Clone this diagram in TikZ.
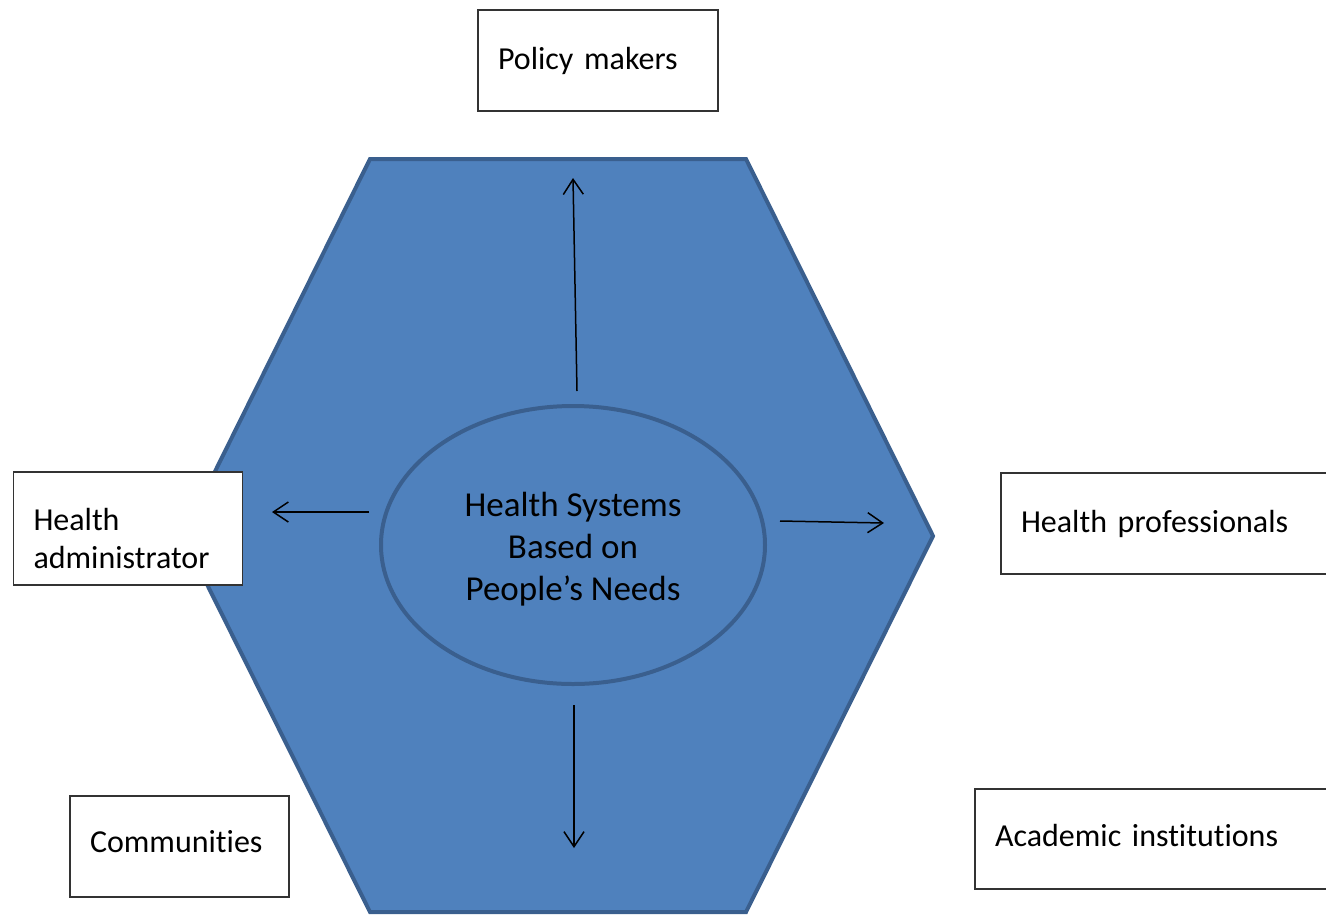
\documentclass[tikz,border=0pt]{standalone}
\usepackage{fontspec}
\setmainfont{Carlito}[Ligatures=NoCommon]
\usetikzlibrary{arrows.meta,shapes.geometric}
\definecolor{hexblue}{HTML}{4F81BD}
\definecolor{hexline}{HTML}{3A5F8E}
\tikzset{
	box/.style={draw=black!80,line width=1.2pt,fill=white,align=left,inner xsep=20pt,inner ysep=0pt,font=\fontsize{32}{38}\selectfont},
	hub/.style={ellipse,draw=hexline,fill=hexblue,line width=4pt,inner sep=0pt,outer sep=0pt,align=center,font=\fontsize{35}{42}\selectfont},
	link/.style={line width=1.5pt,-{Straight Barb[length=15pt,width=20pt]}}
}

\begin{document}
\begin{tikzpicture}[x=1pt,y=-1pt]
	\useasboundingbox (0,0) rectangle (1326,914);
	\clip (0,0) rectangle (1326,914);

	% hexagon
	\draw[hexline,fill=hexblue,line width=4pt] (370,159) -- (746,159) -- (933,536) -- (746,912) -- (370,912) -- (183,536) -- cycle;

	\node[hub,minimum width=384pt,minimum height=278pt] (needs) at (573,545) {\rule{0pt}{32pt}Health Systems\\Based on\\People’s Needs};

	\node[box,text width=200pt,minimum height=101pt] (policy) at (598,60.5) {Policy makers};
	\node[box,text width=189pt,minimum height=113pt] (admin) at (128,528.5) {\rule{0pt}{42pt}Health\\administrator};
	\node[box,text width=299pt,minimum height=101pt] (prof) at (1170.5,523.5) {Health professionals};
	\node[box,text width=179pt,minimum height=101pt] (comm) at (179.5,846.5) {\rule[-10pt]{0pt}{10pt}Communities};
	\node[box,text width=325pt,minimum height=100pt] (acad) at (1157.5,839) {\rule[-8pt]{0pt}{8pt}Academic institutions};

	\coordinate (upEnd) at (573,178);
	\coordinate (leftEnd) at (272,512);
	\coordinate (rightEnd) at (884,523);
	\coordinate (downEnd) at (574,848);

	\draw[link] ([xshift=4pt,yshift=15pt]needs.north) -- (upEnd);
	\draw[link] ([xshift=-12pt,yshift=33pt]needs.west) -- (leftEnd);
	\draw[link] ([xshift=15pt,yshift=24pt]needs.east) -- (rightEnd);
	\draw[link] ([xshift=1pt,yshift=-21pt]needs.south) -- (downEnd);
\end{tikzpicture}
\end{document}
